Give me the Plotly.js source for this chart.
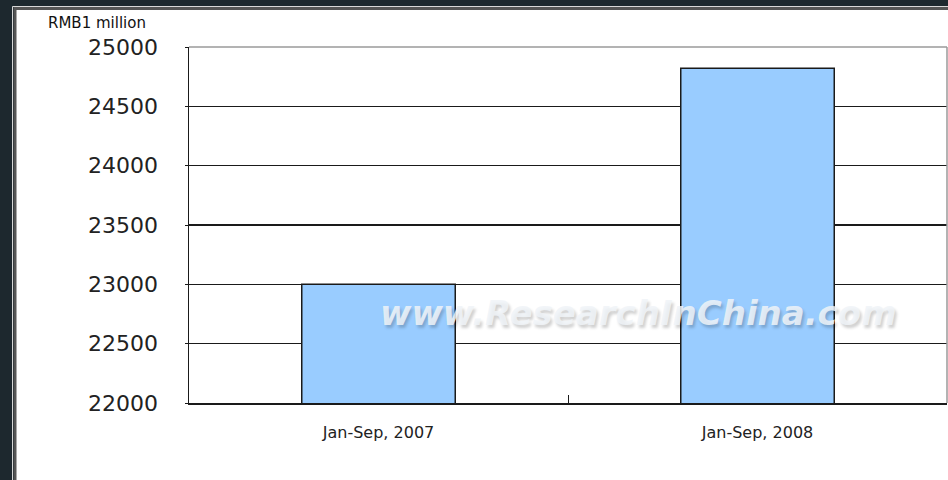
<!DOCTYPE html>
<html>
<head>
<meta charset="utf-8">
<script src="https://cdn.plot.ly/plotly-3.0.1.min.js"></script>
<style>html,body{margin:0;padding:0;background:#1d282e;}#chart{width:948px;height:480px;}</style>
</head>
<body>
<div id="chart"></div>
<script>
// Data
const categories = ["Jan-Sep, 2007", "Jan-Sep, 2008"];
const revenue = [23000, 24820];
const yTickVals = [22000, 22500, 23000, 23500, 24000, 24500, 25000];
const unitLabel = "RMB1 million";
const watermark = "www.ResearchInChina.com";

// Layout geometry (pixels)
const W = 948, H = 480;
const L = 189, R = 1, T = 47, B = 77;
const pw = W - L - R, ph = H - T - B;
const px = x => (x - L) / pw;
const py = y => (H - B - y) / ph;

const trace = {
  type: "bar",
  x: categories,
  y: revenue,
  marker: { color: "#99ccff", line: { color: "#1a1a1a", width: 1.5 } },
  hoverinfo: "skip"
};

const font = "DejaVu Sans, sans-serif";

const layout = {
  width: W, height: H,
  margin: { l: L, r: R, t: T, b: B, pad: 0 },
  paper_bgcolor: "#1d282e",
  plot_bgcolor: "#ffffff",
  showlegend: false,
  bargap: 0.595,
  font: { family: font, color: "#222" },
  xaxis: {
    type: "category",
    tickson: "boundaries",
    ticks: "inside",
    ticklen: 8,
    tickwidth: 1,
    tickcolor: "#1a1a1a",
    showline: true,
    linecolor: "#1a1a1a",
    linewidth: 1.5,
    showgrid: false,
    tickfont: { family: font, size: 16, color: "#222" },
    ticklabelstandoff: 14,
    fixedrange: true
  },
  yaxis: {
    range: [22000, 25000],
    tickvals: yTickVals,
    ticktext: yTickVals.map(String),
    ticks: "outside",
    ticklen: 3,
    tickcolor: "#1a1a1a",
    showline: true,
    linecolor: "#1a1a1a",
    linewidth: 1.5,
    showgrid: true,
    gridcolor: "#1a1a1a",
    gridwidth: 1.5,
    zeroline: false,
    tickfont: { family: font, size: 22, color: "#222" },
    ticklabelstandoff: 22,
    fixedrange: true
  },
  shapes: [
    // outer light line of the panel
    { type: "rect", xref: "paper", yref: "paper", layer: "below",
      x0: px(12.5), x1: px(960), y0: py(500), y1: py(6.5),
      line: { color: "#d8d8d8", width: 1 }, fillcolor: "rgba(0,0,0,0)" },
    // white panel with dark gray border
    { type: "rect", xref: "paper", yref: "paper", layer: "below",
      x0: px(15), x1: px(960), y0: py(500), y1: py(8.5),
      line: { color: "#555555", width: 3 }, fillcolor: "#ffffff" },
    // gray frame on top and right of plot area
    { type: "line", xref: "paper", yref: "paper", layer: "above",
      x0: 0, x1: 1, y0: 1, y1: 1, line: { color: "#9a9a9a", width: 1.5 } },
    { type: "line", xref: "paper", yref: "paper", layer: "above",
      x0: 1, x1: 1, y0: 0, y1: 1, line: { color: "#9a9a9a", width: 1.5 } }
  ],
  annotations: [
    { text: unitLabel, xref: "paper", yref: "paper", x: px(46), y: py(23),
      xanchor: "left", yanchor: "middle", showarrow: false,
      font: { family: font, size: 15, color: "#111" } },
    { text: "<b><i>" + watermark + "</i></b>", xref: "paper", yref: "paper",
      x: px(638), y: py(313), xanchor: "center", yanchor: "middle", showarrow: false,
      font: { family: font, size: 34, color: "rgba(240,244,248,0.85)",
              shadow: "2px 3px 3px rgba(0,0,0,0.22)" } }
  ]
};

Plotly.newPlot("chart", [trace], layout, { displayModeBar: false, staticPlot: true });
</script>
</body>
</html>
